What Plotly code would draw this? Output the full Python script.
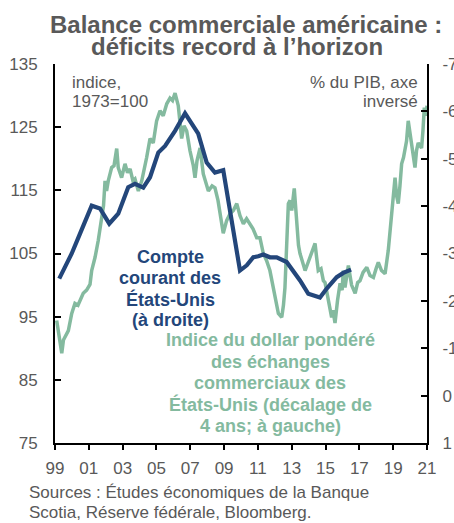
import plotly.graph_objects as go

# ---- Data ----
# Current account (% of GDP, right axis, inverted)
ca_year = [1999.25, 1999.99, 2000.48, 2001.17, 2001.66, 2002.21, 2002.74, 2003.33, 2003.73,
           2004.22, 2004.62, 2005.11, 2005.51, 2006.10, 2006.69, 2007.08, 2007.47, 2007.97,
           2008.46, 2008.95, 2009.45, 2009.94, 2010.34, 2010.73, 2011.02, 2011.32, 2011.71,
           2012.11, 2012.70, 2013.09, 2013.49, 2013.98, 2014.67, 2015.07, 2015.66, 2016.05,
           2016.51]
ca_value = [-2.47, -3.00, -3.42, -4.01, -3.95, -3.63, -3.84, -4.40, -4.47,
            -4.39, -4.61, -5.13, -5.27, -5.59, -5.96, -5.74, -5.53, -4.92,
            -4.71, -4.76, -3.69, -2.64, -2.75, -2.92, -2.94, -2.98, -2.92,
            -2.92, -2.82, -2.64, -2.43, -2.15, -2.07, -2.26, -2.50, -2.59,
            -2.66]

# Trade-weighted dollar index (1973=100, shifted 4 years, left axis)
usd_year = [1999.10, 1999.21, 1999.40, 1999.50, 1999.59, 1999.79, 1999.99, 2000.18, 2000.36,
            2000.48, 2000.67, 2000.87, 2001.07, 2001.17, 2001.37, 2001.56, 2001.76, 2001.87,
            2001.96, 2002.05, 2002.15, 2002.35, 2002.49, 2002.65, 2002.74, 2002.94, 2003.14,
            2003.29, 2003.44, 2003.61, 2003.73, 2003.93, 2004.13, 2004.26, 2004.42, 2004.62,
            2004.81, 2005.01, 2005.21, 2005.40, 2005.61, 2005.80, 2005.95, 2006.10, 2006.29,
            2006.49, 2006.63, 2006.79, 2006.98, 2007.18, 2007.28, 2007.40, 2007.58, 2007.77,
            2007.93, 2008.07, 2008.29, 2008.46, 2008.64, 2008.76, 2008.95, 2009.15, 2009.35,
            2009.55, 2009.75, 2009.94, 2010.14, 2010.33, 2010.53, 2010.71, 2010.93, 2011.12,
            2011.32, 2011.51, 2011.71, 2011.89, 2012.01, 2012.21, 2012.41, 2012.51, 2012.60,
            2012.70, 2012.80, 2012.90, 2013.00, 2013.15, 2013.29, 2013.40, 2013.49, 2013.67,
            2013.79, 2013.93, 2014.08, 2014.23, 2014.38, 2014.48, 2014.57, 2014.73, 2014.87,
            2014.97, 2015.16, 2015.36, 2015.44, 2015.56, 2015.71, 2015.86, 2015.98, 2016.05,
            2016.15, 2016.35, 2016.54, 2016.75, 2016.90, 2017.04, 2017.22, 2017.44, 2017.63,
            2017.83, 2017.99, 2018.12, 2018.31, 2018.52, 2018.71, 2018.81, 2018.91, 2019.02,
            2019.11, 2019.20, 2019.30, 2019.40, 2019.50, 2019.61, 2019.70, 2019.79, 2019.89,
            2019.99, 2020.09, 2020.20, 2020.29, 2020.38, 2020.48, 2020.58, 2020.68, 2020.76,
            2020.84, 2020.94, 2021.00]
usd_value = [94.4, 92.1, 89.2, 91.3, 91.7, 92.8, 95.5, 97.1, 96.8,
             97.6, 98.7, 99.2, 100.1, 102.3, 104.4, 107.1, 110.2, 112.6,
             116.5, 114.9, 116.5, 118.6, 118.9, 121.6, 118.6, 117.0, 119.2,
             117.8, 118.4, 116.5, 116.8, 114.9, 116.5, 118.1, 120.2, 123.2,
             122.5, 126.0, 127.6, 126.8, 128.7, 129.6, 129.2, 130.4, 128.4,
             123.2, 125.2, 124.4, 121.3, 118.9, 117.0, 119.7, 121.7, 117.6,
             116.2, 114.9, 115.7, 115.4, 113.4, 111.3, 108.2, 110.2, 111.3,
             111.8, 112.9, 111.0, 109.7, 110.5, 109.7, 108.9, 107.5, 107.5,
             105.0, 103.9, 102.3, 100.0, 98.1, 95.5, 94.9, 96.8, 99.6,
             105.5, 112.9, 113.4, 111.8, 115.3, 109.1, 106.3, 105.0, 103.6,
             102.3, 103.3, 104.4, 105.2, 106.6, 104.2, 102.3, 102.6, 100.7,
             100.4, 97.6, 94.9, 96.0, 94.0, 97.6, 100.3, 99.2, 102.3,
             99.6, 103.1, 100.0, 98.7, 100.4, 100.7, 102.0, 102.8, 101.5,
             101.2, 102.6, 103.6, 102.3, 101.8, 105.5, 108.3, 111.3, 114.2,
             117.0, 114.2, 112.9, 115.7, 119.2, 120.2, 121.3, 122.8, 126.0,
             124.1, 121.7, 120.0, 118.6, 121.3, 122.5, 122.1, 121.7, 124.4,
             128.1, 126.8, 128.4]

x_tickvals = [1999, 2001, 2003, 2005, 2007, 2009, 2011, 2013, 2015, 2017, 2019, 2021]
x_ticktext = ["99", "01", "03", "05", "07", "09", "11", "13", "15", "17", "19", "21"]
left_ticks = [75, 85, 95, 105, 115, 125, 135]
right_ticks = [-7, -6, -5, -4, -3, -2, -1, 0, 1]
right_ticktext = ["-7", "-6", "-5", "-4", "-3", "-2", "-1", "0", "1"]

BLUE = "#23467a"
GREEN = "#84ba9f"
GRAY = "#595959"
FONT = "Liberation Sans, Arial, sans-serif"

W, H = 454, 523
L, R, T, B = 55, 427, 64, 443


def px(x):
    return (x - L) / (R - L)


def py(y):
    return (B - y) / (B - T)


fig = go.Figure()
fig.add_trace(go.Scatter(x=usd_year, y=usd_value, mode="lines",
                         line=dict(color=GREEN, width=3.5), yaxis="y", hoverinfo="skip"))
fig.add_trace(go.Scatter(x=ca_year, y=ca_value, mode="lines",
                         line=dict(color=BLUE, width=4.2), yaxis="y2", hoverinfo="skip"))

annotations = []


def add_text(text, x, y, color=GRAY, size=17, bold=False, xanchor="center"):
    t = f"<b>{text}</b>" if bold else text
    annotations.append(dict(text=t, x=px(x), y=py(y), xref="paper", yref="paper",
                            xanchor=xanchor, yanchor="middle", showarrow=False,
                            font=dict(family=FONT, size=size, color=color)))


# Title
add_text("Balance commerciale américaine :", 246, 24, size=24, bold=True)
add_text("déficits record à l’horizon", 237, 47, size=24, bold=True)

# Axis captions
add_text("indice,", 70, 82, xanchor="left")
add_text("1973=100", 70, 102, xanchor="left")
add_text("% du PIB, axe", 420, 82, xanchor="right")
add_text("inversé", 420, 102, xanchor="right")

# Series labels
for i, line in enumerate(["Compte", "courant des", "États-Unis", "(à droite)"]):
    add_text(line, 170, 257 + 21 * i, color=BLUE, size=18, bold=True)
for i, line in enumerate(["Indice du dollar pondéré", "des échanges", "commerciaux des",
                          "États-Unis (décalage de", "4 ans; à gauche)"]):
    add_text(line, 270, 340 + 21.5 * i, color=GREEN, size=18, bold=True)

# Source
add_text("Sources : Études économiques de la Banque", 27, 492, xanchor="left")
add_text("Scotia, Réserve fédérale, Bloomberg.", 27, 512, xanchor="left")

axis_common = dict(showgrid=False, zeroline=False, showline=True, linecolor="black",
                   linewidth=2, tickcolor="black", tickwidth=2, automargin=False,
                   tickfont=dict(family=FONT, size=17, color=GRAY))

fig.update_layout(
    width=W, height=H,
    margin=dict(l=L, r=W - R, t=T, b=H - B, pad=0),
    paper_bgcolor="white", plot_bgcolor="white",
    showlegend=False,
    xaxis=dict(range=[1999, 2021], tickvals=x_tickvals, ticktext=x_ticktext,
               ticks="outside", ticklen=5, ticklabelstandoff=4, **axis_common),
    yaxis=dict(range=[75, 135], tickvals=left_ticks, ticks="inside", ticklen=6,
               ticklabelstandoff=12, **axis_common),
    yaxis2=dict(range=[1, -7], tickvals=right_ticks, ticktext=right_ticktext,
                ticks="inside", ticklen=6, overlaying="y", side="right",
                ticklabelstandoff=10, **axis_common),
    annotations=annotations,
)

fig.write_html("out.html", config={"displayModeBar": False},
               post_script="document.body.style.margin='0';")
